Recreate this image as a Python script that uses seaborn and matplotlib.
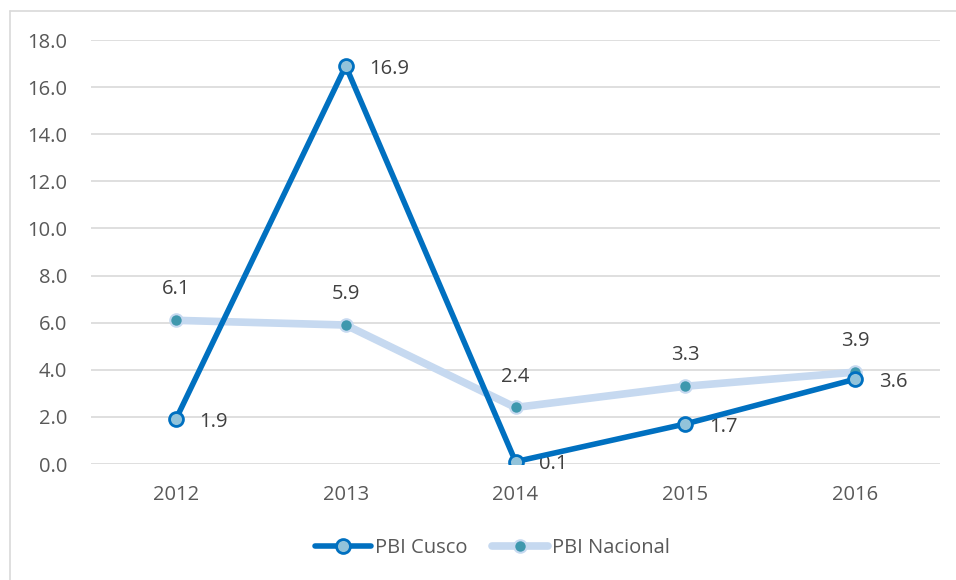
import matplotlib
matplotlib.use("Agg")
import matplotlib.pyplot as plt
from matplotlib.lines import Line2D
import seaborn as sns
import pandas as pd

years = ["2012", "2013", "2014", "2015", "2016"]
pbi_cusco = [1.9, 16.9, 0.1, 1.7, 3.6]
pbi_nacional = [6.1, 5.9, 2.4, 3.3, 3.9]
y_ticks = [0, 2, 4, 6, 8, 10, 12, 14, 16, 18]

sns.set_style("white")
plt.rcParams["font.family"] = ["Open Sans", "DejaVu Sans"]

df = pd.DataFrame({
    "year": years * 2,
    "value": pbi_cusco + pbi_nacional,
    "serie": ["PBI Cusco"] * len(years) + ["PBI Nacional"] * len(years),
})

fig = plt.figure(figsize=(9.56, 5.8), dpi=100)
ax = fig.add_axes([0.0952, 0.2, 0.8881, 0.731])

text_color = "#595959"
cusco_line = "#0070C0"
cusco_face = "#92C3DA"
nac_line = "#C6D9F0"
nac_face = "#3F98AE"
fs = 14.5

nac = df[df.serie == "PBI Nacional"]
cus = df[df.serie == "PBI Cusco"]

sns.lineplot(data=nac, x="year", y="value", ax=ax, color=nac_line, lw=5.5,
             marker="o", markersize=9, markerfacecolor=nac_face,
             markeredgecolor=nac_line, markeredgewidth=1.5, zorder=3,
             legend=False)
sns.lineplot(data=cus, x="year", y="value", ax=ax, color=cusco_line, lw=4,
             marker="o", markersize=10, markerfacecolor=cusco_face,
             markeredgecolor=cusco_line, markeredgewidth=2, zorder=4,
             legend=False)

ax.set_xlim(-0.5, len(years) - 0.5)
ax.set_ylim(0, 18)
ax.set_yticks(y_ticks)
ax.set_yticklabels([f"{v:.1f}" for v in y_ticks])
ax.set_xlabel("")
ax.set_ylabel("")
ax.grid(axis="y", color="#D9D9D9", lw=1.2)
ax.set_axisbelow(True)
for s in ax.spines.values():
    s.set_visible(False)
ax.tick_params(axis="both", length=0, labelsize=fs, colors=text_color)
ax.tick_params(axis="y", pad=17)
ax.tick_params(axis="x", pad=15)

# data labels
for i, v in enumerate(pbi_cusco):
    ax.annotate(f"{v:.1f}", (i, v), xytext=(17, -2), textcoords="offset points",
                ha="left", va="center", fontsize=fs, color="#404040")
for i, v in enumerate(pbi_nacional):
    ax.annotate(f"{v:.1f}", (i, v), xytext=(0, 15), textcoords="offset points",
                ha="center", va="bottom", fontsize=fs, color="#404040")

handles = [
    Line2D([], [], color=cusco_line, lw=4, marker="o", markersize=10,
           markerfacecolor=cusco_face, markeredgecolor=cusco_line,
           markeredgewidth=2),
    Line2D([], [], color=nac_line, lw=5.5, marker="o", markersize=9,
           markerfacecolor=nac_face, markeredgecolor=nac_line,
           markeredgewidth=1.5),
]
fig.legend(handles, ["PBI Cusco", "PBI Nacional"], loc="center",
           bbox_to_anchor=(0.515, 0.055), ncol=2, frameon=False,
           fontsize=fs, labelcolor=text_color, handlelength=2.8,
           handletextpad=0.2, columnspacing=1.2)

# chart frame
fig.add_artist(Line2D([9.5 / 956, 9.5 / 956], [0, 1 - 11 / 580],
                      transform=fig.transFigure, color="#D9D9D9", lw=1.2))
fig.add_artist(Line2D([9.5 / 956, 1], [1 - 11 / 580, 1 - 11 / 580],
                      transform=fig.transFigure, color="#D9D9D9", lw=1.2))

fig.savefig("out.png", dpi=100, facecolor="white")
